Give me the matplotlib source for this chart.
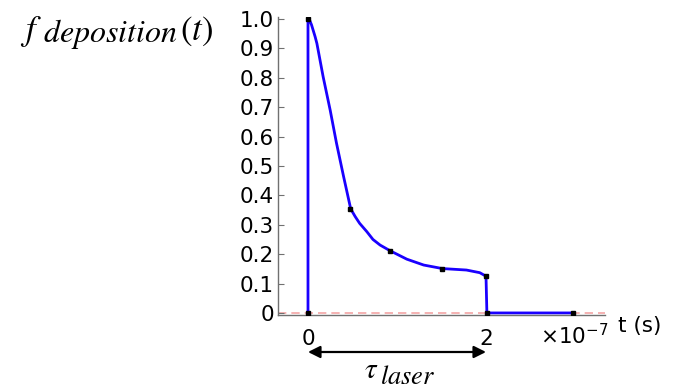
import numpy as np
import matplotlib
matplotlib.use("Agg")
import matplotlib.pyplot as plt

plt.rcParams["font.family"] = ["DejaVu Sans"]
plt.rcParams["mathtext.fontset"] = "stix"

# =========================
# DATA (t in seconds)
# =========================

t_curve = [0.0, 0.0, 0.02e-7, 0.04e-7, 0.08e-7, 0.10e-7, 0.17e-7, 0.25e-7,
           0.32e-7, 0.40e-7, 0.48e-7, 0.53e-7, 0.58e-7, 0.66e-7, 0.73e-7,
           0.81e-7, 0.92e-7, 1.11e-7, 1.30e-7, 1.51e-7, 1.78e-7, 1.93e-7,
           2.0e-7, 2.01e-7, 2.98e-7]
f_curve = [0.0, 1.0, 0.995, 0.98, 0.94, 0.917, 0.804, 0.689,
           0.578, 0.464, 0.354, 0.328, 0.305, 0.277, 0.250,
           0.231, 0.212, 0.183, 0.163, 0.151, 0.146, 0.137,
           0.125, 0.0, 0.0]

t_marks = [0.0, 0.0, 0.47e-7, 0.92e-7, 1.51e-7, 2.0e-7, 2.01e-7, 2.98e-7]
f_marks = [0.0, 1.0, 0.354, 0.212, 0.151, 0.125, 0.0, 0.0]

x_ticks = [0.0, 2e-7]
x_tick_labels = ["0", "2"]
y_ticks = [0.0, 0.1, 0.2, 0.3, 0.4, 0.5, 0.6, 0.7, 0.8, 0.9, 1.0]
y_tick_labels = ["0", "0.1", "0.2", "0.3", "0.4", "0.5", "0.6", "0.7", "0.8", "0.9", "1.0"]

tau_laser = 2e-7

W, H = 679, 389


def fx(px):
    return px / W


def fy(py):
    return 1 - py / H


# =========================
# PLOT
# =========================

fig = plt.figure(figsize=(6.79, 3.89), dpi=100)
ax = fig.add_axes([fx(278), fy(315), 327 / W, 298 / H])

ax.set_xlim(-0.337e-7, 3.337e-7)
ax.set_ylim(-0.007, 1.007)

ax.axhline(0, color="#f4a6a6", linestyle=(0, (5, 3)), linewidth=1.2, zorder=1)
ax.plot(t_curve, f_curve, color="#1a00ff", linewidth=2.0, zorder=2)
ax.plot(t_marks, f_marks, linestyle="none", marker="s", markersize=3.5,
        color="black", zorder=3)

for side in ["top", "right"]:
    ax.spines[side].set_visible(False)
for side in ["left", "bottom"]:
    ax.spines[side].set_color("#707070")
    ax.spines[side].set_linewidth(1.0)

ax.set_xticks(x_ticks)
ax.set_xticklabels(x_tick_labels)
ax.set_yticks(y_ticks)
ax.set_yticklabels(y_tick_labels)
ax.tick_params(axis="both", direction="in", length=4, color="#707070",
               labelsize=15.5, labelcolor="black")
ax.tick_params(axis="x", pad=10)
ax.tick_params(axis="y", pad=3)

# offset and axis label
fig.text(fx(540), fy(336), r"$\times10^{-7}$", ha="left", va="center",
         fontsize=15.5, math_fontfamily="dejavusans")
fig.text(fx(618), fy(326), "t (s)", ha="left", va="center", fontsize=15.5)

# y label: f_deposition(t)
fig.text(fx(20), fy(40), r"$f$", ha="left", va="baseline", fontsize=25)
fig.text(fx(43), fy(42), r"$deposition$", ha="left", va="baseline", fontsize=23)
fig.text(fx(180), fy(40), r"$(t)$", ha="left", va="baseline", fontsize=25)

# tau_laser arrow
ax.annotate("", xy=(0.0, fy(352)), xytext=(tau_laser, fy(352)),
            xycoords=("data", "figure fraction"), textcoords=("data", "figure fraction"),
            arrowprops=dict(arrowstyle="<|-|>", color="black", lw=1.6,
                            mutation_scale=18, shrinkA=0, shrinkB=0),
            annotation_clip=False)
fig.text(fx(364), fy(378), r"$\tau$", ha="left", va="baseline", fontsize=21)
fig.text(fx(380), fy(384), r"$laser$", ha="left", va="baseline", fontsize=19)

fig.savefig("out.png", dpi=100)
